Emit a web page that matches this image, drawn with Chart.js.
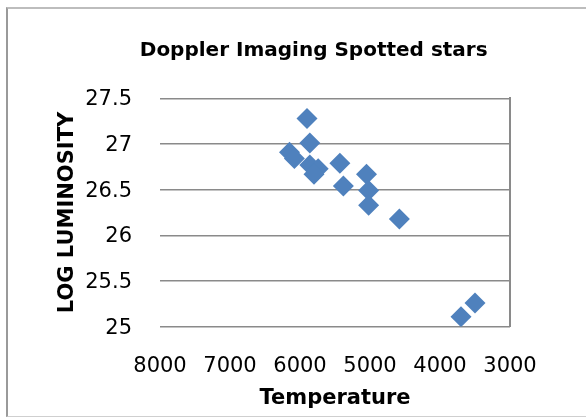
<!DOCTYPE html>
<html>
<head>
<meta charset="utf-8">
<script src="https://cdn.jsdelivr.net/npm/chart.js@4.4.1/dist/chart.umd.min.js"></script>
<style>
  html, body { margin: 0; padding: 0; background: #ffffff; }
  #wrap { position: relative; width: 586px; height: 417px; overflow: hidden; }
  #frame { position: absolute; left: 6px; top: 7px; width: 700px; height: 407px;
           border-left: 2px solid #9a9a9a; border-top: 2px solid #bdbdbd; border-bottom: 1px solid #cfcfcf; }
  canvas { position: absolute; left: 0; top: 0; }
</style>
</head>
<body>
<div id="wrap">
  <div id="frame"></div>
  <canvas id="c" width="586" height="417"></canvas>
</div>
<script>
// ---- data ----
const chartTitle = "Doppler Imaging Spotted stars";
const xAxisTitle = "Temperature";
const yAxisTitle = "LOG LUMINOSITY";
const temperature   = [5900, 5860, 6150, 6080, 5860, 5740, 5800, 5430, 5380, 5050, 5020, 5020, 4580, 3500, 3700];
const logLuminosity = [27.28, 27.01, 26.91, 26.84, 26.77, 26.73, 26.67, 26.79, 26.54, 26.67, 26.49, 26.33, 26.18, 25.26, 25.11];
const xTicks = [3000, 4000, 5000, 6000, 7000, 8000];
const yTicks = [25, 25.5, 26, 26.5, 27, 27.5];

const points = temperature.map((t, i) => ({ x: t, y: logLuminosity[i] }));
const FONT = "'DejaVu Sans', 'Liberation Sans', sans-serif";

new Chart(document.getElementById('c'), {
  type: 'scatter',
  data: {
    datasets: [{
      data: points,
      pointStyle: 'rectRot',
      pointRadius: 10.5,
      pointHoverRadius: 10.5,
      backgroundColor: '#4F81BD',
      borderColor: '#4F81BD',
      borderWidth: 0
    }]
  },
  options: {
    responsive: false,
    animation: false,
    devicePixelRatio: 1,
    layout: { padding: { left: 41.4, right: 0, top: 0, bottom: 0 } },
    plugins: {
      legend: { display: false },
      tooltip: { enabled: false },
      title: {
        display: true,
        text: chartTitle,
        color: '#000',
        font: { family: FONT, size: 20, weight: 'bold' },
        padding: { top: 38.7, bottom: 35.6 }
      }
    },
    scales: {
      x: {
        type: 'linear',
        position: 'bottom',
        reverse: true,
        min: Math.min(...xTicks),
        max: Math.max(...xTicks),
        afterBuildTicks: s => { s.ticks = xTicks.map(v => ({ value: v })); },
        afterFit: s => { s.height = 90.3; },
        grid: { display: false, drawTicks: false },
        border: { display: false },
        ticks: {
          color: '#000',
          font: { family: FONT, size: 21 },
          padding: 27.7,
          maxRotation: 0,
          autoSkip: false,
          callback: v => String(v)
        },
        title: {
          display: true,
          text: xAxisTitle,
          color: '#000',
          font: { family: FONT, size: 21, weight: 'bold' },
          padding: { top: 0, bottom: 5.6 }
        }
      },
      y: {
        type: 'linear',
        position: 'left',
        min: Math.min(...yTicks),
        max: Math.max(...yTicks),
        afterBuildTicks: s => { s.ticks = yTicks.map(v => ({ value: v })); },
        afterFit: s => { s.width = 118.6; },
        grid: { color: '#8a8a8a', lineWidth: 1.6, drawTicks: false },
        border: { display: false },
        ticks: {
          color: '#000',
          font: { family: FONT, size: 21 },
          padding: 28,
          labelOffset: 1.5,
          autoSkip: false,
          callback: v => String(v)
        },
        title: {
          display: true,
          text: yAxisTitle,
          color: '#000',
          font: { family: FONT, size: 21, weight: 'bold' },
          padding: { top: 13.5, bottom: 0 }
        }
      },
      yRight: {
        type: 'linear',
        position: 'right',
        display: true,
        afterFit: s => { s.width = 76; },
        grid: { display: false, drawTicks: false },
        ticks: { display: false },
        border: { display: true, color: '#8a8a8a', width: 2 }
      }
    }
  }
});
</script>
</body>
</html>
